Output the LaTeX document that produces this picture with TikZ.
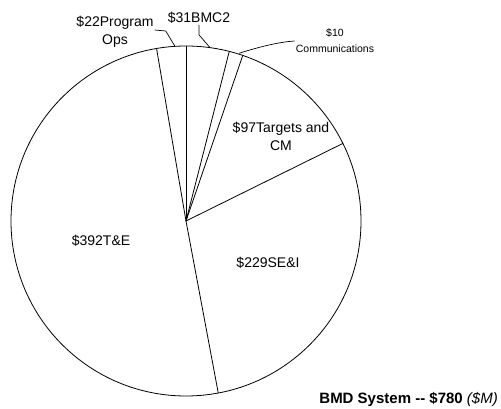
\documentclass[tikz,border=0pt]{standalone}
\usepackage{fontspec}
\setmainfont{Liberation Sans}
\usetikzlibrary{calc,positioning}

\begin{document}
\begin{tikzpicture}[x=1pt,y=1pt,
  pie/.style={line width=0.8pt},
  lead/.style={line width=0.7pt},
  lab/.style={inner sep=1pt,font=\fontsize{14}{18}\selectfont},
  smalllab/.style={inner sep=1pt,align=center,font=\fontsize{10.5}{16}\selectfont}]
% Picture frame
  \useasboundingbox (0,0) rectangle (501,409);
% Pie centre and outline
  \coordinate (c) at (186,188);
  \draw[pie] (c) circle (175);
% Slice edge, top (BMC2 / Program Ops)
  \draw[pie] (c) -- +(90:175);
% Slice edge (BMC2 / Communications)
  \draw[pie] (c) -- +(75.69:175);
% Slice edge (Communications / Targets)
  \draw[pie] (c) -- +(71.08:175);
% Slice edge (Targets / SE&I)
  \draw[pie] (c) -- +(26.31:175);
% Slice edge, bottom (SE&I / T&E)
  \draw[pie] (c) -- +(-79.38:175);
% Slice edge (T&E / Program Ops)
  \draw[pie] (c) -- +(99.69:175);

% Leader end points on the outline
  \coordinate (pe) at ($(c)+(93.6:175)$);
  \coordinate (be) at ($(c)+(82.1:175)$);
  \coordinate (cs) at ($(c)+(72.4:176)$);

% Program Ops label and leader
  \node[lab,align=center] (prog) at (115,377) {\$22Program\\Ops};
  \draw[lead] (prog.east) ++(0,2) -- ++(11,-1) -- (pe);
% BMC2 label and leader
  \node[lab] (bmc) at (199,391) {\$31BMC2};
  \draw[lead] (bmc.south) -- ++(0,-10) -- (be);
% Communications label and leader
  \node[smalllab] (comm) at (335,368) {\$10\\Communications};
  \draw[lead] (cs) .. controls (262,363) and (280,367) .. (comm.west);

% Labels inside the slices
  \node[lab,align=center] (tgt) at (281,273) {\$97Targets and\\CM};
  \node[lab] (sei) at (268,146) {\$229SE\&I};
  \node[lab] (te) at (101,168) {\$392T\&E};

% Chart title
  \node[inner sep=1pt,anchor=east,font=\fontsize{15}{18}\selectfont] (title) at (499,10)
    {\textbf{BMD System -{}- \$780} \textit{(\$M)}};
\end{tikzpicture}
\end{document}
